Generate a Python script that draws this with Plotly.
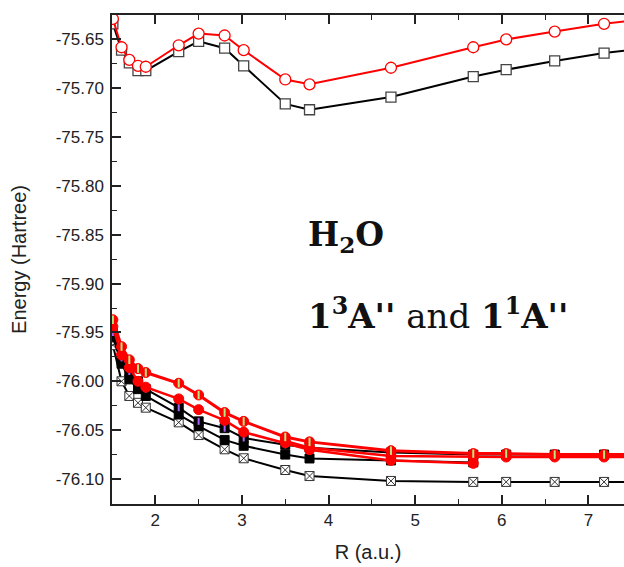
import plotly.graph_objects as go

# R values (a.u.)
R = [1.51, 1.61, 1.70, 1.80, 1.89, 2.27, 2.50, 2.80, 3.02, 3.50, 3.78, 4.72, 5.67, 6.05, 6.61, 7.18, 7.56]

# Upper states
upper_black = [-75.634, -75.661, -75.674, -75.682, -75.682, -75.6625, -75.652, -75.659, -75.677,
               -75.716, -75.722, -75.709, -75.688, -75.681, -75.672, -75.664, -75.660]
upper_red = [-75.629, -75.658, -75.671, -75.677, -75.678, -75.656, -75.644, -75.646, -75.661,
             -75.691, -75.696, -75.679, -75.658, -75.650, -75.642, -75.634, -75.630]

# Lower states
red_half = [-75.937, -75.9645, -75.978, -75.987, -75.991, -76.002, -76.014, -76.032, -76.041,
            -76.057, -76.062, -76.071, -76.074, -76.074, -76.075, -76.075, -76.075]
R_red_half2 = [3.50, 3.78, 4.72, 5.67, 6.05, 6.61, 7.18, 7.56]
red_half2 = [-76.061, -76.068, -76.0765, -76.0775, -76.0775, -76.0775, -76.0775, -76.0775]
R_red_fill = R[:13]
red_fill = [-75.944, -75.973, -75.986, -76.000, -76.006, -76.018, -76.029, -76.040, -76.052,
            -76.063, -76.070, -76.081, -76.084]
black_half = [-75.950, -75.976, -75.990, -76.000, -76.008, -76.027, -76.041, -76.048, -76.058,
              -76.065, -76.068, -76.073, -76.075, -76.075, -76.075, -76.075, -76.075]
R_black_fill = R[:13]
black_fill = [-75.955, -75.982, -75.998, -76.008, -76.015, -76.034, -76.046, -76.060, -76.066,
              -76.075, -76.079, -76.081, -76.083]
black_cross = [-75.963, -76.000, -76.015, -76.022, -76.027, -76.042, -76.055, -76.0696, -76.0788,
               -76.0908, -76.097, -76.102, -76.103, -76.103, -76.103, -76.103, -76.103]

y_tickvals = [-75.65, -75.70, -75.75, -75.80, -75.85, -75.90, -75.95, -76.00, -76.05, -76.10]
y_ticktext = ["-75.65", "-75.70", "-75.75", "-75.80", "-75.85", "-75.90", "-75.95", "-76.00", "-76.05", "-76.10"]
x_tickvals = [2, 3, 4, 5, 6, 7]
x_ticktext = ["2", "3", "4", "5", "6", "7"]

RED = "#ff0000"
BLK = "#000000"
AX = "#222222"

fig = go.Figure()

def add_line(x, y, color, width, symbol, msize, mcolor, mline_color, mline_w, dash="solid"):
    fig.add_trace(go.Scatter(
        x=x, y=y, mode="lines+markers",
        line=dict(color=color, width=width, dash=dash),
        marker=dict(symbol=symbol, size=msize, color=mcolor,
                    line=dict(color=mline_color, width=mline_w)),
        showlegend=False, cliponaxis=True, hoverinfo="skip"))

def add_stripe(x, y, size):
    fig.add_trace(go.Scatter(
        x=x, y=y, mode="markers",
        marker=dict(symbol="line-ns-open", size=size, line=dict(color="white", width=2)),
        showlegend=False, cliponaxis=True, hoverinfo="skip"))

# lower cluster
add_line(R, black_cross, BLK, 2, "square-x", 9, "white", "#333333", 1)
add_line(R_black_fill, black_fill, BLK, 2, "square", 9, BLK, BLK, 1)
add_line(R, black_half, BLK, 2, "square", 9, BLK, BLK, 1)
add_stripe(R, black_half, 5)
add_line(R_red_fill, red_fill, RED, 2.5, "circle", 10, RED, RED, 1)
add_line(R_red_half2, red_half2, RED, 2.5, "circle", 10, RED, RED, 1)
add_line(R, red_half, RED, 3, "circle", 10, RED, RED, 1)
add_stripe(R, red_half, 6)

# upper pair
add_line(R, upper_black, BLK, 2, "square", 10, "white", "#444444", 1.3)
add_line(R, upper_red, RED, 2, "circle", 11, "white", RED, 1.3)

fig.update_layout(
    width=624, height=567,
    margin=dict(l=112, r=0, t=15, b=63),
    paper_bgcolor="white", plot_bgcolor="white",
    font=dict(family="Liberation Sans, Arial, sans-serif", color=AX),
    showlegend=False,
)

fig.update_xaxes(
    range=[1.5, 7.41],
    tickvals=x_tickvals, ticktext=x_ticktext,
    ticks="inside", ticklen=9, tickwidth=1.5, tickcolor=AX,
    minor=dict(ticks="inside", ticklen=5, tickwidth=1.2, tickcolor=AX, dtick=0.5, tick0=0.5),
    showline=True, linecolor=AX, linewidth=1.5, mirror="ticks",
    showgrid=False, zeroline=False,
    tickfont=dict(size=17, color=AX),
    title=dict(text="R (a.u.)", font=dict(size=20, color=AX), standoff=16),
)
fig.update_yaxes(
    range=[-76.1256, -75.625],
    tickvals=y_tickvals, ticktext=y_ticktext,
    ticks="inside", ticklen=9, tickwidth=1.5, tickcolor=AX,
    minor=dict(ticks="inside", ticklen=5, tickwidth=1.2, tickcolor=AX, dtick=0.025, tick0=-75.625),
    showline=True, linecolor=AX, linewidth=1.5, mirror=False,
    showgrid=False, zeroline=False,
    tickfont=dict(size=17, color=AX),
    ticklabelstandoff=3,
    title=dict(text="Energy (Hartree)", font=dict(size=20, color=AX), standoff=24),
)

fig.add_annotation(
    xref="x", yref="y", x=3.74, y=-75.852, xanchor="left", yanchor="middle",
    text="<b>H<sub>2</sub>O</b>", showarrow=False,
    font=dict(family="DejaVu Serif, Liberation Serif, serif", size=33, color="#111111"))
fig.add_annotation(
    xref="x", yref="y", x=3.74, y=-75.931, xanchor="left", yanchor="middle",
    text="<b>1<sup>3</sup>A''</b> and <b>1<sup>1</sup>A''</b>", showarrow=False,
    font=dict(family="DejaVu Serif, Liberation Serif, serif", size=34, color="#111111"))

fig.write_html("out.html", config={"displayModeBar": False},
               post_script="document.body.style.margin='0';document.body.style.padding='0';")
